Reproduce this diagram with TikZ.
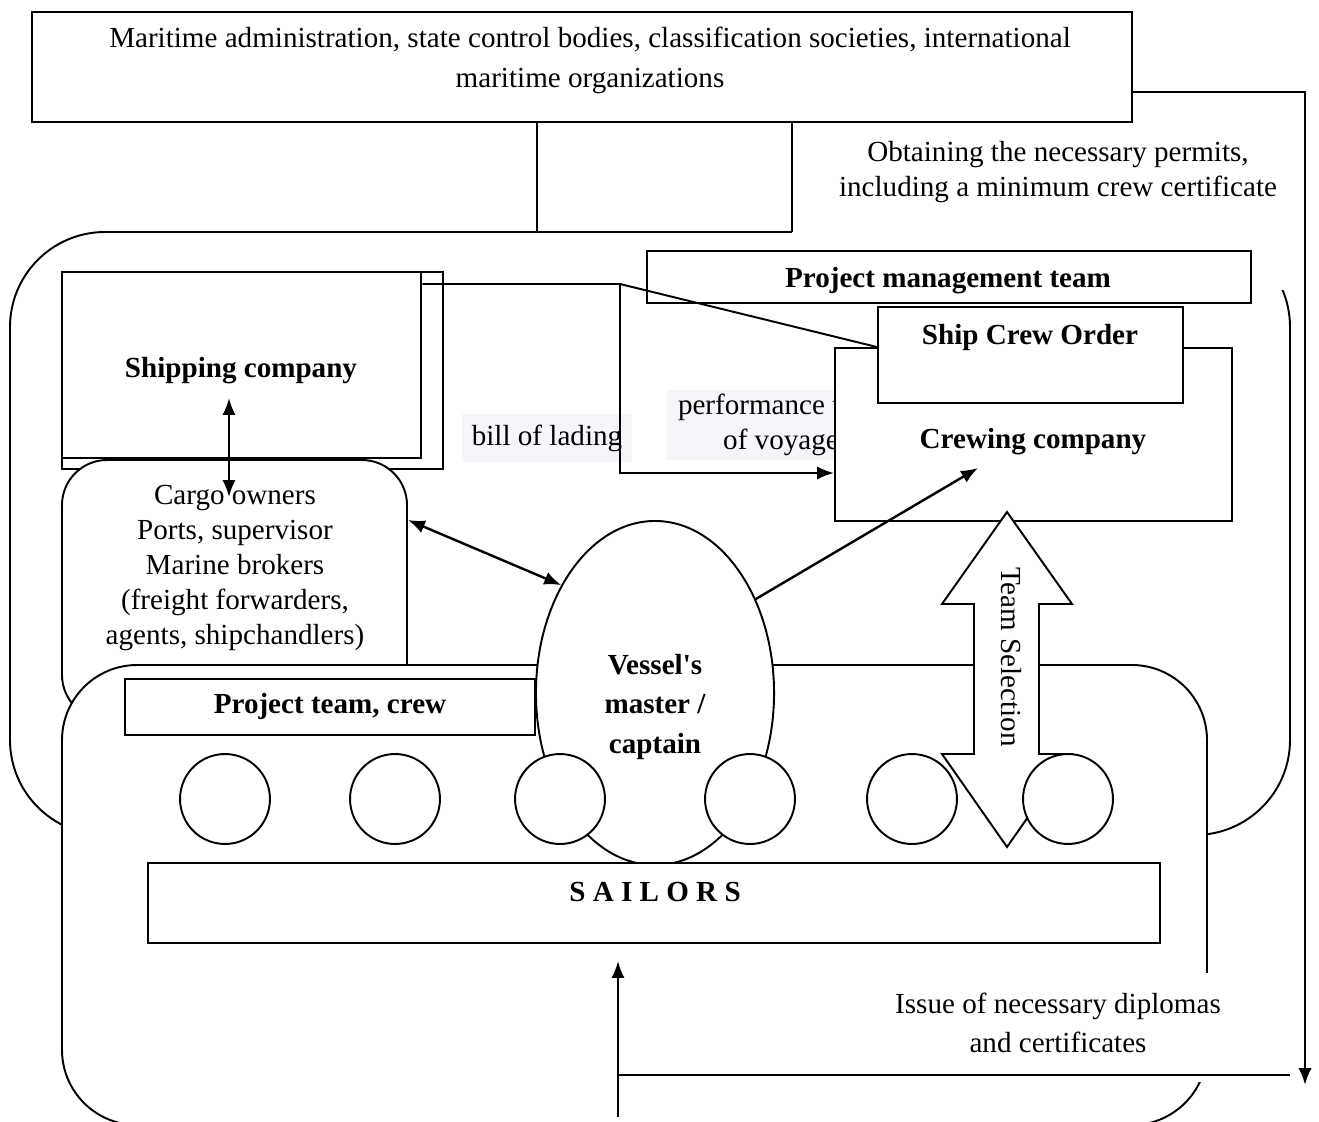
\documentclass[tikz,border=0pt]{standalone}
\usepackage{fontspec}
\setmainfont{Liberation Serif}[Ligatures=TeXOff]
\usetikzlibrary{shapes.geometric,fit,arrows.meta}
\definecolor{lablbg}{RGB}{244,246,249}

\begin{document}
\begin{tikzpicture}[x=0.0145cm,y=-0.0145cm,
  font=\fontsize{12pt}{14.5pt}\selectfont,
  box/.style={draw=black,fill=white,line width=0.8pt,inner sep=0pt},
  txt/.style={align=center,inner sep=0pt},
  bold/.style={txt,font=\fontsize{12pt}{14.5pt}\selectfont\bfseries},
  lbl/.style={fill=lablbg,align=center},
  mate/.style={circle,draw=black,fill=white,line width=0.8pt,minimum size=37.1pt,inner sep=0pt},
  conn/.style={draw=black,line width=1pt},
  tip/.style={-{Latex[length=7pt,width=5.5pt]}},
  tips/.style={{Latex[length=7pt,width=5.5pt]}-{Latex[length=7pt,width=5.5pt]}}]

\useasboundingbox (0,0) rectangle (1319,1122);

%company frame
\draw[box,rounded corners=39.2pt] (10,232) rectangle (1290,835);

%permits
\fill[white] (792,123) rectangle (1298,290);
\node[txt] (permit) at (1058,172) {Obtaining the necessary permits,\\including a minimum crew certificate};

%administration
\node[box,fit={(32,12) (1132,122)}] (admin) {};
\node[txt] (admintxt) at (590,60) {Maritime administration, state control bodies, classification societies, international\\[2pt]maritime organizations};
\coordinate (la) at (537,232);
\coordinate (lb) at (792,232);
\draw[conn,line width=0.8pt] (admin.south -| la) -- (la);
\draw[conn,line width=0.8pt] (admin.south -| lb) -- (lb);

\coordinate (rt) at (1305,92);
\coordinate (rtend) at (1305,1085);
\draw[conn,tip] (admin.east |- rt) -- (rt) -- (rtend);

%management team
\node[box,fit={(647,251) (1251,303)}] (pmt) {};
\node[bold] (pmttxt) at (948,281) {Project management team};

%shipping company
\node[box,line width=1.1pt,fit={(62,272) (443,469)}] (shipback) {};
\node[box,line width=1.1pt,fit={(62,272) (421,458)}] (ship) {};
\node[bold] (shiptxt) at (241,371) {Shipping company};

%labels
\node[lbl,minimum width=70.5pt,minimum height=19.4pt,inner sep=0pt] (bol) at (547,438) {bill of lading};
\node[lbl,inner xsep=4.5pt,inner ysep=1.5pt] (perf) at (781,425) {performance time\\of voyage};

%crewing
\node[box,fit={(835,348) (1232,521)}] (crew) {};
\node[bold] (crewtxt) at (1033,442) {Crewing company};
\node[box,fit={(878,307) (1183,403)}] (order) {};
\node[bold] (ordertxt) at (1030,338) {Ship Crew Order};

%documents
\coordinate (split) at (620,284);
\coordinate (down) at (620,473);
\draw[conn,line width=0.8pt] (ship.north east |- split) -- (split) -- (order.west |- crew.north);
\draw[conn,tip] (split) -- (down) -- (crew.west |- down);

%cargo
\node[box,rounded corners=18.6pt,fit={(62,460) (407,720)}] (cargo) {};
\node[txt] (cargotxt) at (235,568) {Cargo owners\\Ports, supervisor\\Marine brokers\\(freight forwarders,\\agents, shipchandlers)};
\coordinate (shipup) at (229,398);
\coordinate (cargodown) at (229,497);
\draw[conn,tips] (shipup) -- (cargodown);

%crew frame
\draw[box,rounded corners=31pt] (62,665) rectangle (1207,1125);
\node[box,fit={(125,679) (535,735)}] (team) {};
\node[bold] (teamtxt) at (330,707) {Project team, crew};

%team selection
\draw[box] (1007,512) -- (1072,604) -- (1039,604) -- (1039,754) -- (1072,754) -- (1007,847)
  -- (942,754) -- (974,754) -- (974,604) -- (942,604) -- cycle;
\node[txt,rotate=-90] (select) at (1011,657) {Team Selection};

%captain
\node[box,ellipse,minimum width=98.2pt,minimum height=141.9pt] (captain) at (655,693) {};
\node[bold] (captxt) at (655,707) {Vessel's\\[1.6pt]master /\\[1.6pt]captain};

%mates
\foreach \cx [count=\i] in {225,395,560,750,912,1068}
  \node[mate] (mate\i) at (\cx,799) {};

%sailors
\node[box,fit={(148,863) (1160,943)}] (sailors) {};
\node[bold] (sailtxt) at (655,892) {S A I L O R S};

%diplomas
\fill[white] (880,973) rectangle (1240,1082);
\node[txt] (issue) at (1058,1023) {Issue of necessary diplomas\\[1.3pt]and certificates};
\coordinate (bl) at (618,1075);
\coordinate (br) at (1290,1075);
\coordinate (blow) at (618,1117);
\coordinate (bup) at (618,961);
\draw[conn] (br) -- (bl);
\draw[conn,tip] (blow) -- (bup);

%links
\coordinate (cargoout) at (407,520);
\coordinate (crewin) at (978,468);
\draw[conn,tips] (cargo.east |- cargoout) -- (captain.131);
\draw[conn,tip] (captain.43) -- (crewin);

\end{tikzpicture}
\end{document}
